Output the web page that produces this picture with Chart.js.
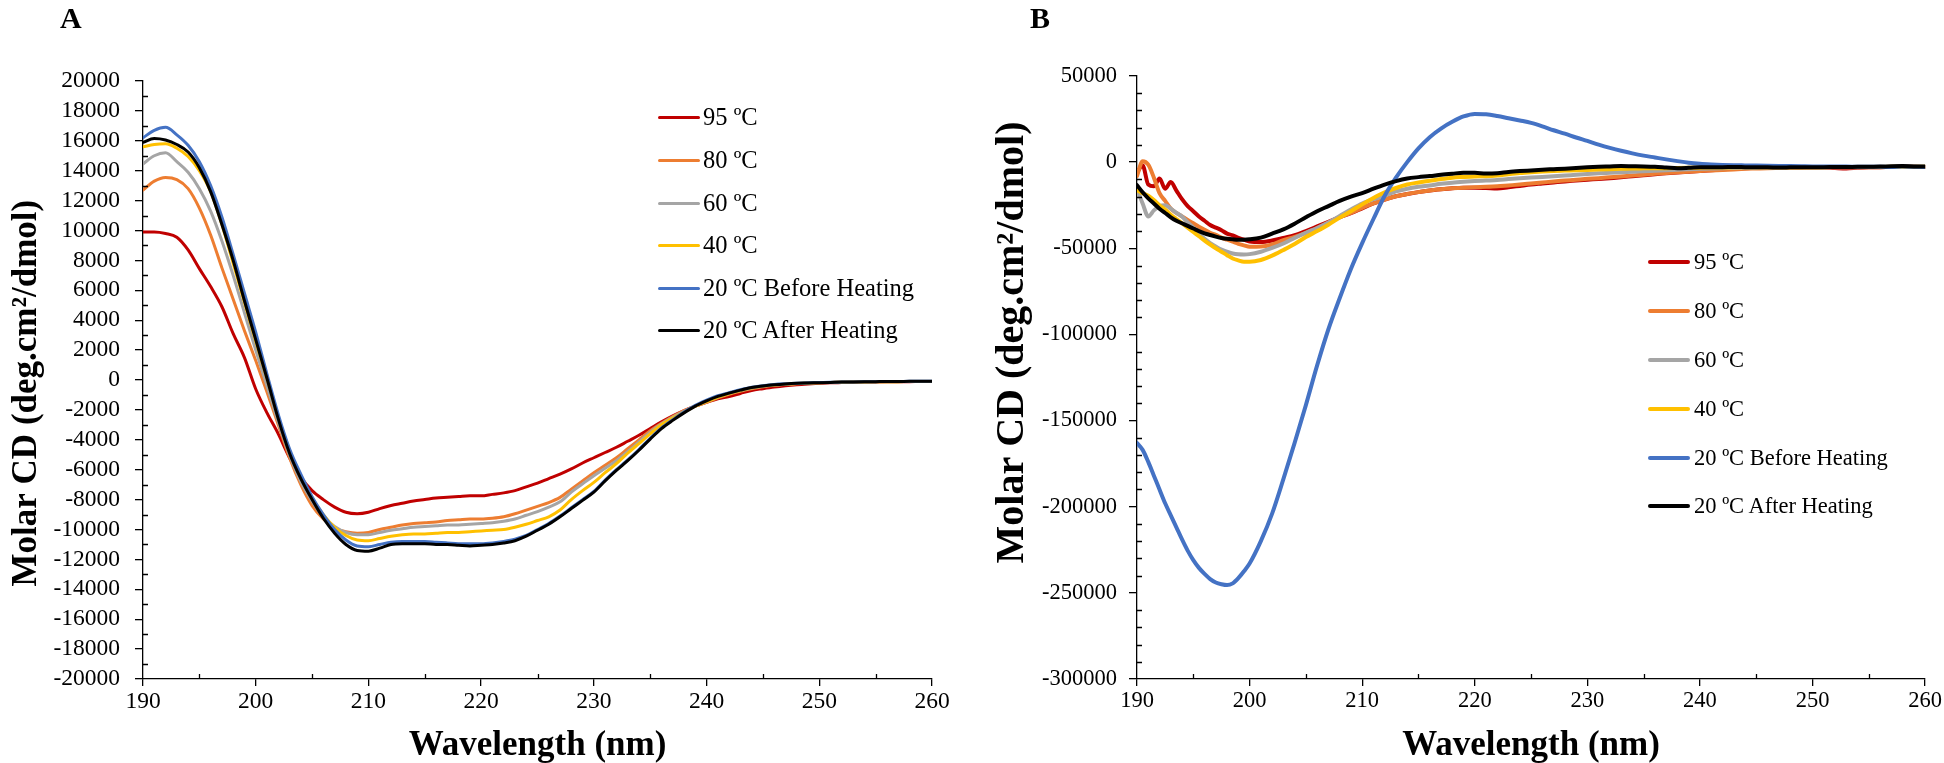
<!DOCTYPE html>
<html>
<head>
<meta charset="utf-8">
<script src="https://cdn.jsdelivr.net/npm/chart.js@4.4.1/dist/chart.umd.min.js"></script>
<style>
html,body{margin:0;padding:0;background:#fff;width:1944px;height:763px;overflow:hidden;}
.wrap{position:absolute;top:0;}
.panel{position:absolute;font-family:'Liberation Serif','Times New Roman',serif;font-weight:bold;font-size:30px;line-height:30px;color:#000;}
.leg{position:absolute;left:0;top:0;font-family:'Liberation Serif','Times New Roman',serif;color:#000;white-space:nowrap;}
.leg .row{position:absolute;display:flex;align-items:center;line-height:1;}
.leg .sw{display:inline-block;border-radius:2px;}
</style>
</head>
<body>
<div class="wrap" style="left:0;width:960px;height:763px;"><canvas id="cA" width="960" height="763"></canvas></div>
<div class="wrap" style="left:985px;width:959px;height:763px;"><canvas id="cB" width="959" height="763"></canvas></div>
<div class="panel" style="left:60px;top:3px;">A</div>
<div class="panel" style="left:1030px;top:3px;">B</div>
<div class="leg" id="legA"></div>
<div class="leg" id="legB"></div>
<script>
// ---------- data ----------
const SERIES_LABELS = ['95 ºC', '80 ºC', '60 ºC', '40 ºC', '20 ºC Before Heating', '20 ºC After Heating'];
const SERIES_COLORS = ['#C00000', '#ED7D31', '#A5A5A5', '#FFC000', '#4472C4', '#000000'];

const X_TICKS = [190, 200, 210, 220, 230, 240, 250, 260];

// Panel A wavelengths (nm)
const wlA = [190,191,192,193,194,195,196,197,198,199,200,201,202,203,204,205,206,207,208,209,210,
  211,212,213,214,215,216,217,218,219,220,221,222,223,224,225,226,227,228,229,230,
  231,232,233,234,235,236,237,238,239,240,241,242,243,244,245,246,247,248,249,250,
  251,252,253,254,255,256,257,258,259,260];

const a95 = [9900,9900,9800,9550,8700,7450,6250,4900,3100,1500,-600,-2200,-3600,-5200,-6500,-7400,-8000,-8500,-8850,-8950,-8850,
  -8600,-8400,-8250,-8100,-8000,-7900,-7850,-7800,-7750,-7750,-7650,-7550,-7400,-7150,-6900,-6600,-6300,-5950,-5550,-5200,
  -4850,-4500,-4100,-3700,-3250,-2800,-2400,-2050,-1750,-1500,-1250,-1100,-900,-700,-580,-470,-380,-310,-260,-220,
  -190,-170,-150,-140,-130,-120,-110,-110,-100,-100];
const a80 = [12700,13300,13550,13400,12800,11500,9700,7500,5400,3300,1300,-800,-3000,-5200,-7000,-8400,-9300,-9900,-10150,-10250,-10200,
  -10000,-9850,-9700,-9600,-9550,-9500,-9400,-9350,-9300,-9300,-9250,-9150,-8950,-8700,-8450,-8200,-7850,-7300,-6750,-6200,
  -5700,-5200,-4600,-4000,-3400,-2900,-2450,-2050,-1750,-1500,-1200,-950,-750,-580,-450,-360,-300,-250,-210,-180,
  -160,-150,-140,-130,-120,-110,-110,-100,-100,-100];
const a60 = [14450,15000,15200,14600,13900,12800,11300,9300,7000,4500,2000,-400,-2800,-5000,-6800,-8100,-9150,-9800,-10200,-10350,-10350,
  -10200,-10050,-9950,-9850,-9800,-9750,-9700,-9700,-9650,-9600,-9550,-9450,-9300,-9050,-8800,-8500,-8150,-7500,-6950,-6400,
  -5900,-5400,-4800,-4150,-3500,-2950,-2500,-2100,-1750,-1450,-1150,-900,-700,-530,-420,-340,-280,-240,-200,-180,
  -160,-150,-140,-130,-120,-110,-110,-100,-100,-100];
const a40 = [15600,15750,15800,15500,14950,14000,12600,10400,7800,5200,2600,100,-2500,-4700,-6500,-7900,-9000,-9850,-10400,-10700,-10750,
  -10600,-10450,-10350,-10300,-10300,-10250,-10200,-10200,-10150,-10100,-10050,-10000,-9850,-9650,-9400,-9150,-8700,-8000,-7400,-6850,
  -6200,-5600,-4900,-4250,-3600,-3000,-2550,-2150,-1750,-1450,-1150,-900,-700,-520,-410,-330,-270,-230,-200,-180,
  -160,-150,-140,-130,-120,-110,-110,-100,-100,-100];
const a20before = [16200,16700,16900,16400,15700,14600,13000,10900,8400,5800,3200,400,-2300,-4600,-6300,-7800,-9000,-10000,-10700,-11100,-11150,
  -11000,-10850,-10800,-10800,-10800,-10850,-10900,-10950,-10950,-10950,-10900,-10800,-10650,-10400,-10000,-9600,-9100,-8550,-8000,-7450,
  -6700,-6000,-5350,-4650,-3900,-3200,-2650,-2150,-1700,-1350,-1050,-850,-650,-480,-380,-300,-250,-210,-190,-170,
  -150,-140,-130,-120,-110,-100,-100,-90,-90,-90];
const a20after = [15900,16150,16050,15750,15250,14200,12600,10400,8000,5300,2700,100,-2600,-4900,-6600,-8000,-9250,-10250,-11000,-11400,-11450,
  -11250,-11000,-10950,-10950,-10950,-11000,-11000,-11050,-11100,-11050,-11000,-10900,-10750,-10450,-10050,-9650,-9150,-8600,-8050,-7500,
  -6750,-6050,-5400,-4700,-3950,-3250,-2700,-2200,-1750,-1400,-1100,-880,-680,-500,-400,-320,-260,-220,-200,-180,
  -160,-140,-130,-120,-110,-100,-100,-90,-90,-90];

const Y_TICKS_A = [-20000,-18000,-16000,-14000,-12000,-10000,-8000,-6000,-4000,-2000,0,2000,4000,6000,8000,10000,12000,14000,16000,18000,20000];

// Panel B wavelengths (nm): half-nm steps to 200, then 1 nm
const wlB = [190,190.5,191,191.5,192,192.5,193,193.5,194,194.5,195,195.5,196,196.5,197,197.5,198,198.5,199,199.5,200,
  201,202,203,204,205,206,207,208,209,210,211,212,213,214,215,216,217,218,219,220,
  221,222,223,224,225,226,227,228,229,230,231,232,233,234,235,236,237,238,239,240,
  241,242,243,244,245,246,247,248,249,250,251,252,253,254,255,256,257,258,259,260];

const b95 = [-6000,-2000,-13000,-14000,-9500,-15500,-11500,-16500,-21500,-25500,-28500,-31500,-34000,-36500,-38000,-39500,-41500,-42500,-44000,-45000,-46000,
  -46300,-45500,-44000,-42400,-40000,-37300,-34600,-32000,-29600,-26800,-24000,-21800,-19800,-18500,-17400,-16500,-15800,-15200,-14800,-14800,
  -15000,-15300,-14600,-13800,-13000,-12400,-11800,-11200,-10700,-10200,-9800,-9300,-8800,-8200,-7600,-7000,-6500,-6000,-5600,-5200,
  -4700,-4200,-3800,-3500,-3300,-3200,-3100,-3000,-2900,-2900,-3000,-3400,-3700,-3300,-3000,-2900,-2800,-2700,-2700,-2800];
const b80 = [-8000,500,-1500,-9000,-18000,-22500,-27000,-29500,-31500,-33500,-35500,-37500,-39300,-41000,-42200,-43800,-45000,-46200,-47400,-48300,-49100,
  -49000,-47800,-45300,-43400,-41000,-38300,-35000,-32000,-29500,-26500,-24000,-21800,-19800,-18500,-17400,-16400,-15700,-15200,-14800,-14500,
  -14300,-14000,-13500,-13000,-12400,-11800,-11200,-10700,-10200,-9700,-9300,-8800,-8300,-7800,-7300,-6800,-6300,-5900,-5500,-5100,
  -4800,-4500,-4200,-3900,-3700,-3500,-3400,-3300,-3200,-3100,-3000,-3000,-3000,-2900,-2900,-2900,-2800,-2800,-2800,-2800];
const b60 = [-15300,-24000,-31500,-28000,-25500,-25000,-27000,-29500,-31500,-35000,-38000,-41500,-44500,-47000,-49000,-50800,-52000,-53000,-53500,-53600,-53400,
  -52000,-49800,-47200,-44000,-41000,-38200,-35000,-31300,-27500,-24000,-21500,-19500,-17000,-15400,-14300,-13500,-12600,-11900,-11400,-11000,
  -10700,-10400,-9800,-9300,-8900,-8600,-8200,-7800,-7300,-6900,-6500,-6200,-5900,-5600,-5300,-5000,-4700,-4400,-4100,-3900,
  -3700,-3500,-3400,-3300,-3200,-3100,-3100,-3000,-3000,-3000,-2900,-2900,-2900,-2900,-2800,-2800,-2800,-2700,-2700,-2700];
const b40 = [-16300,-18000,-19500,-22000,-25000,-27500,-30500,-33000,-35500,-38000,-40500,-43000,-45500,-47800,-50000,-52000,-54000,-55900,-57000,-57800,-57800,
  -56800,-54300,-51000,-47500,-43500,-40000,-36300,-32200,-28500,-24500,-20800,-17500,-15000,-13000,-11800,-10800,-9800,-9000,-8600,-8300,
  -8200,-7800,-7000,-6300,-5800,-5400,-5100,-4900,-4700,-4500,-4300,-4100,-3900,-3700,-3600,-3500,-3500,-3400,-3300,-3200,
  -3100,-3100,-3000,-3000,-3000,-2900,-2900,-2900,-2900,-2900,-2900,-2800,-2800,-2800,-2800,-2800,-2700,-2700,-2700,-2700];
const b20before = [-163000,-167000,-174000,-182000,-190000,-198000,-205000,-212000,-219000,-225500,-231000,-235500,-239000,-242000,-244000,-245000,-245500,-244500,-241500,-237500,-233000,
  -220000,-204000,-184000,-163000,-141000,-118000,-97000,-79000,-62000,-47000,-33000,-19500,-9000,0,8000,14500,19500,23400,26500,28000,
  27800,26800,25500,24200,22800,20800,18500,16500,14300,12300,10200,8300,6600,5100,3800,2700,1600,600,-300,-900,
  -1300,-1600,-1800,-1900,-2000,-2100,-2200,-2300,-2400,-2500,-2500,-2600,-2600,-2700,-2700,-2700,-2800,-2600,-2700,-2800];
const b20after = [-13400,-17500,-21000,-24000,-27000,-29500,-32000,-34000,-35500,-37000,-38500,-40000,-41300,-42300,-43200,-44000,-44500,-44800,-45000,-45000,-44800,
  -43800,-41500,-39000,-35700,-32000,-28500,-25500,-22500,-20000,-18000,-15400,-13000,-11000,-9500,-8700,-8100,-7300,-6700,-6200,-6200,
  -6600,-6400,-5700,-5200,-4800,-4400,-4100,-3800,-3400,-3000,-2700,-2500,-2300,-2400,-2500,-2700,-3100,-3500,-3300,-3000,
  -2900,-2900,-2800,-2900,-3000,-3000,-3100,-3000,-2900,-2900,-2900,-2800,-2800,-2700,-2700,-2600,-2400,-2300,-2500,-2600];

const Y_TICKS_B = [-300000,-250000,-200000,-150000,-100000,-50000,0,50000];

const X_TITLE = 'Wavelength (nm)';
const Y_TITLE = 'Molar CD (deg.cm²/dmol)';

// ---------- rendering ----------
const FONT = "'Liberation Serif', 'Times New Roman', serif";

const minorTicksPlugin = {
  id: 'minorTicks',
  afterDraw(chart, args, o) {
    const {ctx, chartArea} = chart;
    const xs = chart.scales.x, ys = chart.scales.y;
    ctx.save();
    ctx.strokeStyle = '#000';
    ctx.lineWidth = o.width;
    ctx.beginPath();
    for (let v = xs.min + o.xMinor; v < xs.max; v += o.xMinor) {
      if (Math.abs(v % o.xMajor) < 1e-9) continue;
      const px = Math.round(xs.getPixelForValue(v)) + 0.5;
      ctx.moveTo(px, chartArea.bottom);
      ctx.lineTo(px, chartArea.bottom - o.len);
    }
    for (let v = ys.min + o.yMinor; v < ys.max; v += o.yMinor) {
      if (Math.abs(v % o.yMajor) < 1e-9) continue;
      const py = Math.round(ys.getPixelForValue(v)) + 0.5;
      ctx.moveTo(chartArea.left, py);
      ctx.lineTo(chartArea.left + o.len, py);
    }
    ctx.stroke();
    ctx.restore();
  }
};

function makeChart(id, wl, series, cfg) {
  const datasets = series.map((vals, i) => ({
    label: SERIES_LABELS[i],
    data: wl.map((x, j) => ({x: x, y: vals[j]})),
    borderColor: SERIES_COLORS[i],
    backgroundColor: SERIES_COLORS[i],
    borderWidth: cfg.lw,
    pointRadius: 0,
    fill: false,
    cubicInterpolationMode: 'monotone',
    borderJoinStyle: 'round',
    borderCapStyle: 'round',
    order: series.length - 1 - i
  }));
  return new Chart(document.getElementById(id), {
    type: 'line',
    data: {datasets},
    options: {
      responsive: false,
      animation: false,
      events: [],
      layout: {padding: cfg.pad},
      plugins: {
        legend: {display: false},
        tooltip: {enabled: false},
        minorTicks: {xMinor: 5, xMajor: 10, yMinor: cfg.yMinor, yMajor: cfg.yStep, len: 5, width: 1.3}
      },
      scales: {
        x: {
          type: 'linear', min: X_TICKS[0], max: X_TICKS[X_TICKS.length - 1], position: 'bottom',
          afterBuildTicks: s => { s.ticks = X_TICKS.map(v => ({value: v})); },
          ticks: {autoSkip: false, maxRotation: 0, color: '#000', padding: 2,
                  font: {family: FONT, size: cfg.tickSize}, callback: v => String(v)},
          grid: {drawOnChartArea: false, drawTicks: true, tickLength: 7, color: '#000', lineWidth: 1.3},
          border: {display: true, color: '#000', width: 1.3},
          title: {display: true, text: X_TITLE, color: '#000',
                  font: {family: FONT, size: 35, weight: 'bold', lineHeight: 1}, padding: {top: 0, bottom: 0}},
          afterFit: s => { s.height = 84; }
        },
        y: {
          type: 'linear', min: cfg.yTicks[0], max: cfg.yTicks[cfg.yTicks.length - 1],
          afterBuildTicks: s => { s.ticks = cfg.yTicks.map(v => ({value: v})); },
          ticks: {autoSkip: false, color: '#000', padding: cfg.yPad,
                  font: {family: FONT, size: cfg.tickSize}, callback: v => String(v)},
          grid: {drawOnChartArea: false, drawTicks: true, tickLength: 8, color: '#000', lineWidth: 1.3},
          border: {display: true, color: '#000', width: 1.3},
          title: {display: true, text: cfg.yTitle, color: '#000',
                  font: {family: FONT, size: cfg.yTitleSize, weight: 'bold', lineHeight: 1},
                  padding: {top: cfg.yTitlePad, bottom: 0}},
          afterFit: s => { s.width = cfg.yWidth; }
        }
      }
    },
    plugins: [minorTicksPlugin]
  });
}

makeChart('cA', wlA, [a95, a80, a60, a40, a20before, a20after], {
  lw: 3, pad: {top: 81, right: 28, bottom: 0, left: 0},
  yTicks: Y_TICKS_A, yStep: 2000, yMinor: 1000, yPad: 15, yWidth: 143,
  tickSize: 23.5, yTitle: Y_TITLE + '   ', yTitleSize: 35, yTitlePad: 9
});
makeChart('cB', wlB, [b95, b80, b60, b40, b20before, b20after], {
  lw: 4, pad: {top: 76, right: 18, bottom: 0, left: 0},
  yTicks: Y_TICKS_B, yStep: 50000, yMinor: 10000, yPad: 12, yWidth: 152,
  tickSize: 22.5, yTitle: '       ' + Y_TITLE, yTitleSize: 40, yTitlePad: 8
});

// ---------- legends (HTML, from the series arrays) ----------
function buildLegend(elId, left, rowsY, swW, swH, fontSize, gap) {
  const el = document.getElementById(elId);
  SERIES_LABELS.forEach((lab, i) => {
    const row = document.createElement('div');
    row.className = 'row';
    row.style.left = left + 'px';
    row.style.top = (rowsY[i] - fontSize / 2) + 'px';
    row.style.height = fontSize + 'px';
    row.style.fontSize = fontSize + 'px';
    const sw = document.createElement('span');
    sw.className = 'sw';
    sw.style.width = swW + 'px';
    sw.style.height = swH + 'px';
    sw.style.background = SERIES_COLORS[i];
    sw.style.marginRight = gap + 'px';
    const tx = document.createElement('span');
    tx.textContent = lab;
    row.appendChild(sw);
    row.appendChild(tx);
    el.appendChild(row);
  });
}
buildLegend('legA', 658, [117, 160, 203, 245, 288, 330], 42, 3, 24.5, 3);
buildLegend('legB', 1648, [262, 311, 360, 409, 458, 506], 42, 4, 22.5, 4);
</script>
</body>
</html>
